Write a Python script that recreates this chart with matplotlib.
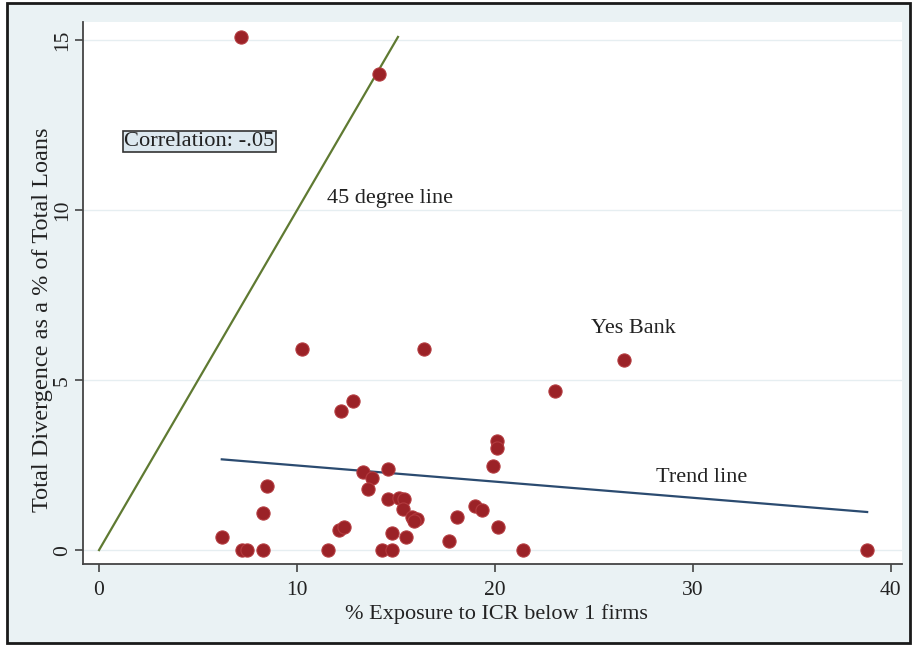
import numpy as np
import matplotlib
matplotlib.use('Agg')
import matplotlib.pyplot as plt
from matplotlib.patches import Rectangle

# --------------------------
# Data
# --------------------------
exposure = [7.17, 14.14, 10.25, 16.41, 26.52, 23.03, 12.81, 12.22, 20.08, 20.08,
            19.91, 14.61, 13.35, 13.77, 13.60, 8.50, 8.30, 6.20, 7.20, 7.45,
            8.30, 11.58, 12.10, 12.37, 14.28, 14.78, 14.78, 15.50, 14.58, 15.17,
            15.42, 15.37, 15.79, 16.04, 15.90, 17.66, 18.10, 18.99, 19.33, 20.17,
            21.40, 38.77]
divergence = [15.10, 14.00, 5.92, 5.92, 5.58, 4.69, 4.39, 4.08, 3.22, 2.99,
              2.48, 2.38, 2.29, 2.11, 1.80, 1.89, 1.08, 0.39, 0.00, 0.00,
              0.00, 0.00, 0.59, 0.69, 0.00, 0.00, 0.49, 0.39, 1.49, 1.52,
              1.49, 1.20, 0.98, 0.90, 0.86, 0.28, 0.98, 1.30, 1.18, 0.69,
              0.00, 0.00]

deg45_x = [0, 15.1]
deg45_y = [0, 15.1]
trend_x = [6.2, 38.8]
trend_y = [2.67, 1.12]

x_ticks = [0, 10, 20, 30, 40]
y_ticks = [0, 5, 10, 15]

# --------------------------
# Style
# --------------------------
plt.rcParams['font.family'] = ['Liberation Serif', 'DejaVu Serif']
text_color = '#222222'
bg_color = '#EAF2F4'
marker_color = '#9B2227'

fig = plt.figure(figsize=(9.13, 6.47), dpi=100, facecolor='white')

# outer graph region with black frame (behind the axes)
frame = Rectangle((7 / 913, 1 - 643 / 647), (910 - 7) / 913, (643 - 3) / 647,
                  transform=fig.transFigure, facecolor=bg_color,
                  edgecolor='#1a1a1a', linewidth=2, zorder=-10)
fig.patches.append(frame)

ax = fig.add_axes([83 / 913, 1 - 564 / 647, (902 - 83) / 913, (564 - 22) / 647])
ax.set_facecolor('white')

ax.set_xlim(-0.81, 40.56)
ax.set_ylim(-0.41, 15.54)

# faint horizontal grid
for yv in y_ticks:
    ax.axhline(yv, color='#E6EEF1', linewidth=1.0, zorder=1)

ax.plot(deg45_x, deg45_y, color='#5F7A32', linewidth=1.6, zorder=2)
ax.plot(trend_x, trend_y, color='#2B4B70', linewidth=1.6, zorder=2)
ax.scatter(exposure, divergence, s=90, color=marker_color,
           edgecolor='#B23A3E', linewidth=0.8, zorder=3)

ax.text(5.07, 12.03, 'Correlation: -.05', ha='center', va='center',
        fontsize=16.2, color=text_color,
        bbox=dict(boxstyle='square,pad=0.05', facecolor='#DCE8EF',
                  edgecolor='#333333', linewidth=1.2))
ax.text(11.5, 10.36, '45 degree line', ha='left', va='center',
        fontsize=16, color=text_color)
ax.text(26.97, 6.53, 'Yes Bank', ha='center', va='center',
        fontsize=16, color=text_color)
ax.text(30.45, 2.15, 'Trend line', ha='center', va='center',
        fontsize=16, color=text_color)

# axes in Stata look
for side in ['top', 'right']:
    ax.spines[side].set_visible(False)
for side in ['left', 'bottom']:
    ax.spines[side].set_color('#444444')
    ax.spines[side].set_linewidth(1.3)

ax.set_xticks(x_ticks)
ax.set_yticks(y_ticks)
ax.tick_params(axis='both', colors='#444444', labelcolor=text_color,
               length=6, width=1.2, labelsize=15.5)
ax.tick_params(axis='y', labelrotation=90, pad=2)
ax.tick_params(axis='x', pad=6)
for lbl in ax.get_yticklabels():
    lbl.set_verticalalignment('center')

ax.set_xlabel('% Exposure to ICR below 1 firms', fontsize=16, color=text_color)
ax.set_ylabel('Total Divergence as a % of Total Loans', fontsize=17.5, color=text_color)
ax.xaxis.set_label_coords(0.505, -0.093)
ax.yaxis.set_label_coords(-0.049, 0.450)
ax.xaxis.label.set_verticalalignment('center')
ax.yaxis.label.set_verticalalignment('center')

fig.savefig('out.png', dpi=100, facecolor='white')
